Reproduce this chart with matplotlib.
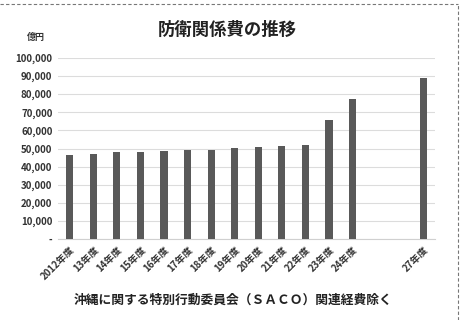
import numpy as np
import matplotlib
matplotlib.use("Agg")
import matplotlib.pyplot as plt
from matplotlib.lines import Line2D

plt.rcParams['font.family'] = ['Noto Sans CJK JP', 'DejaVu Sans']

categories = ["2012年度", "13年度", "14年度", "15年度", "16年度", "17年度", "18年度",
              "19年度", "20年度", "21年度", "22年度", "23年度", "24年度", "", "", "27年度"]
values = [46453, 46804, 47838, 48221, 48607, 48996, 49388, 50070, 50688, 51235,
          51788, 66001, 77249, np.nan, np.nan, 89000]
yticks = [0, 10000, 20000, 30000, 40000, 50000, 60000, 70000, 80000, 90000, 100000]
ytick_labels = ["-", "10,000", "20,000", "30,000", "40,000", "50,000", "60,000",
                "70,000", "80,000", "90,000", "100,000"]
title = "防衛関係費の推移"
unit = "億円"
note = "沖縄に関する特別行動委員会（ＳＡＣＯ）関連経費除く"

fig = plt.figure(figsize=(4.62, 3.2), dpi=100)
ax = fig.add_axes([58/462, 1-239/320, (435-58)/462, (239-58)/320])
x = np.arange(len(categories))
ax.bar(x, values, width=0.3, color="#595959", zorder=3)
ax.set_xlim(-0.5, len(categories)-0.5)
ax.set_ylim(0, 100000)
ax.set_yticks(yticks)
ax.set_yticklabels(ytick_labels, fontsize=7, fontweight="bold", color="#333333")
ax.set_xticks(x)
ax.set_xticklabels(categories, rotation=45, ha="right", rotation_mode="anchor",
                   fontsize=7, fontweight="bold", color="#333333")
ax.tick_params(axis="both", length=0, pad=4)
ax.grid(axis="y", color="#dcdcdc", linewidth=0.8, zorder=0)
for s in ["top", "right", "left"]:
    ax.spines[s].set_visible(False)
ax.spines["bottom"].set_color("#d0d0d0")
ax.spines["bottom"].set_linewidth(0.8)

fig.text(227/462, 1-30/320, title, ha="center", va="center", fontsize=12.5,
         fontweight="bold", color="#222222")
fig.text(36/462, 1-37/320, unit, ha="center", va="center", fontsize=6.5,
         fontweight="bold", color="#333333")
fig.text(233/462, 1-300/320, note, ha="center", va="center", fontsize=9.2,
         fontweight="bold", color="#222222")

# dashed border (top and right)
fig.add_artist(Line2D([0, 458/462], [1-4/320, 1-4/320], transform=fig.transFigure,
                      color="#777777", linestyle=(0, (3, 2)), linewidth=0.8))
fig.add_artist(Line2D([458/462, 458/462], [0, 1-4/320], transform=fig.transFigure,
                      color="#777777", linestyle=(0, (3, 2)), linewidth=0.8))

fig.savefig("out.png", dpi=100, facecolor="white")
